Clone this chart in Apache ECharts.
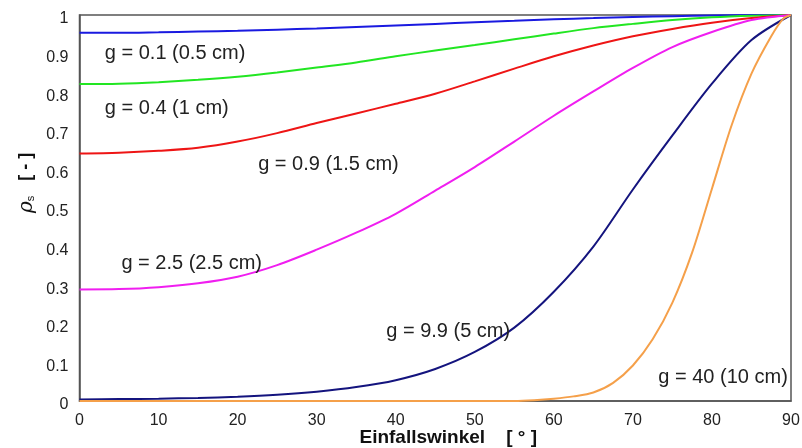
<!DOCTYPE html>
<html>
<head>
<meta charset="utf-8">
<script src="https://cdn.jsdelivr.net/npm/echarts@6/dist/echarts.min.js"></script>
<style>
html,body{margin:0;padding:0;background:#fff;}
#chart{width:802px;height:448px;}
</style>
</head>
<body>
<div id="chart"></div>
<script>
// ---- data ----
var angles = [0,5,10,15,20,25,30,35,40,45,50,55,60,65,70,75,80,85,90];
var g01 = [0.954,0.954,0.955,0.957,0.959,0.962,0.965,0.969,0.973,0.977,0.981,0.985,0.989,0.992,0.995,0.997,0.999,1.0,1.0];
var g04 = [0.821,0.822,0.826,0.832,0.840,0.851,0.864,0.877,0.893,0.908,0.922,0.937,0.952,0.966,0.977,0.987,0.994,0.998,1.0];
var g09 = [0.641,0.643,0.648,0.656,0.672,0.694,0.720,0.745,0.770,0.796,0.828,0.861,0.893,0.921,0.945,0.964,0.980,0.992,1.0];
var g25 = [0.289,0.290,0.295,0.305,0.322,0.352,0.392,0.436,0.485,0.545,0.606,0.672,0.739,0.802,0.863,0.917,0.956,0.987,1.0];
var g99 = [0.004,0.005,0.006,0.008,0.011,0.016,0.024,0.036,0.054,0.083,0.127,0.190,0.283,0.400,0.548,0.688,0.822,0.935,1.0];
var anglesFine = [0,10,20,30,40,50,55,57.5,60,62.5,65,67.5,70,72.5,75,77.5,80,82.5,85,87.5,89,90];
var g40 = [0,0,0,0,0,0,0,0.002,0.006,0.012,0.022,0.047,0.092,0.160,0.255,0.385,0.550,0.715,0.848,0.945,0.99,1.0];

var seriesNames = ['g = 0.1 (0.5 cm)','g = 0.4 (1 cm)','g = 0.9 (1.5 cm)','g = 2.5 (2.5 cm)','g = 9.9 (5 cm)','g = 40 (10 cm)'];
var xTicks = [0,10,20,30,40,50,60,70,80,90];
var yTicks = [0,0.1,0.2,0.3,0.4,0.5,0.6,0.7,0.8,0.9,1];

// annotation anchor points (data space) for the curve labels
var labelAnchors = [[3.2,0.901,'left'],[3.2,0.758,'left'],[22.6,0.614,'left'],[5.3,0.357,'left'],[38.8,0.181,'left'],[89.6,0.060,'right']];

var colors = ['#1a1ae0','#22e622','#ee1515','#f01ef0','#14147e','#f5a04a'];

function zip(xs, ys){ return xs.map(function(x,i){ return [x, ys[i]]; }); }
var seriesData = [zip(angles,g01), zip(angles,g04), zip(angles,g09), zip(angles,g25), zip(angles,g99), zip(anglesFine,g40)];

var chart = echarts.init(document.getElementById('chart'), null, {renderer:'canvas'});
var font = 'Liberation Sans, Arial, sans-serif';

var option = {
  animation: false,
  backgroundColor: '#ffffff',
  grid: {left: 79.5, right: 11, top: 15, bottom: 47, containLabel: false, outerBoundsMode: 'none',
    show: true, borderColor: '#555', borderWidth: 1.5, backgroundColor: 'transparent'},
  xAxis: {
    type: 'value', min: 0, max: 90, interval: 10,
    axisLine: {show: true, lineStyle: {color: '#555', width: 1.5}},
    axisTick: {show: false},
    splitLine: {show: false},
    axisLabel: {color: '#222', fontSize: 16, fontFamily: font, margin: 12,
      formatter: function(v){ return xTicks.indexOf(v) >= 0 ? String(v) : ''; }},
    name: 'Einfallswinkel    [ ° ]',
    nameLocation: 'middle', nameGap: 27, nameMoveOverlap: false,
    nameTextStyle: {fontSize: 19, fontWeight: 'bold', fontFamily: font, color: '#111', padding: [0,0,0,26]}
  },
  yAxis: {
    type: 'value', min: 0, max: 1, interval: 0.1,
    axisLine: {show: true, lineStyle: {color: '#555', width: 1.5}},
    axisTick: {show: false},
    splitLine: {show: false},
    axisLabel: {color: '#222', fontSize: 16, fontFamily: font, margin: 11,
      formatter: function(v){ var r = Math.round(v*10)/10; return yTicks.indexOf(r) >= 0 ? '{a|' + r + '}' : ''; },
      rich: {a: {fontSize: 16, fontFamily: font, color: '#222', padding: [8,0,0,0]}}},
    name: '{r|ρ}{s|s}{t|   [ - ]}',
    nameLocation: 'middle', nameGap: 43, nameRotate: 90, nameMoveOverlap: false,
    nameTextStyle: {padding: [0,0,0,50], rich: {
      r: {fontSize: 20, fontStyle: 'italic', fontFamily: 'DejaVu Serif, serif', color: '#111'},
      s: {fontSize: 11, fontFamily: font, color: '#111', padding: [8,0,0,0]},
      t: {fontSize: 18, fontWeight: 'bold', fontFamily: font, color: '#111'}
    }}
  },
  series: seriesData.map(function(d, i){
    return {
      name: seriesNames[i], type: 'line', data: d, smooth: 0.3,
      showSymbol: false, symbol: 'none',
      lineStyle: {color: colors[i], width: 2},
      z: 2 + i
    };
  })
};
chart.setOption(option);

var graphics = labelAnchors.map(function(a, i){
  var p = chart.convertToPixel({gridIndex: 0}, [a[0], a[1]]);
  return {
    type: 'text', x: p[0], y: p[1], z: 50,
    style: {text: seriesNames[i], fill: '#222', font: '20px ' + font, textAlign: a[2], textVerticalAlign: 'middle'}
  };
});
chart.setOption({graphic: graphics});
</script>
</body>
</html>
